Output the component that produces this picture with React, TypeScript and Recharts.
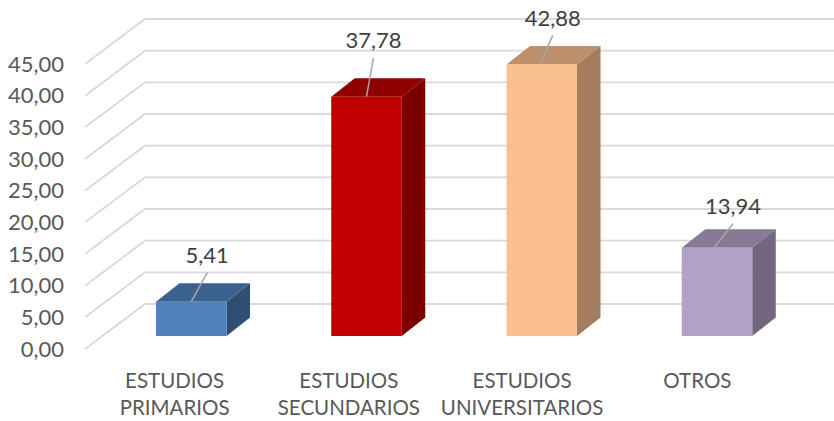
import React from "react";
import { BarChart, Bar, XAxis, YAxis, CartesianGrid, LabelList } from "recharts";

const categories = ["ESTUDIOS PRIMARIOS", "ESTUDIOS SECUNDARIOS", "ESTUDIOS UNIVERSITARIOS", "OTROS"];
const values = [5.41, 37.78, 42.88, 13.94];
const yTicks = [0, 5, 10, 15, 20, 25, 30, 35, 40, 45];

const frontColors = ["#4f81bd", "#c00000", "#fac090", "#b3a2c7"];
const topColors = ["#3b618e", "#900000", "#bc906c", "#867a95"];
const sideColors = ["#2f4e71", "#7a0000", "#a37d5e", "#72677f"];
const leaderStartDx = [0, 0, -2, -3];
const leaderDx = [16, 7, 11, 16];
const leaderDy = [-29, -39, -29, -24];
const xLabelDx = [-17, -18, -20, -20];

const data = categories.map((name, i) => ({ name, value: values[i] }));

const FONT = "Lato, sans-serif";
const DEPTH_X = 23.5;
const DEPTH_Y = 18.5;
const fmt = (v: number) => v.toFixed(2).replace(".", ",");

const Bar3D = (p: any) => {
  const { x, y, width, height, index } = p;
  const r = x + width;
  const b = y + height;
  return (
    <g>
      <path d={`M${x},${y} L${x + DEPTH_X},${y - DEPTH_Y} L${r + DEPTH_X},${y - DEPTH_Y} L${r},${y} Z`} fill={topColors[index]} />
      <path d={`M${r},${y} L${r + DEPTH_X},${y - DEPTH_Y} L${r + DEPTH_X},${b - DEPTH_Y} L${r},${b} Z`} fill={sideColors[index]} />
      <rect x={x} y={y} width={width} height={height} fill={frontColors[index]} />
    </g>
  );
};

const GridLine = (p: any) => {
  const y = p.y1;
  return <path key={p.key} d={`M85,${y + 13} L145,${y - 32} L834,${y - 32}`} fill="none" stroke="#d9d9d9" strokeWidth={1.8} />;
};

const YTick = (p: any) => (
  <text x={64} y={p.y + 15} textAnchor="end" dominantBaseline="middle" fontFamily={FONT} fontSize={22} fill="#595959">
    {fmt(p.payload.value)}
  </text>
);

const XTick = (p: any) => {
  const lines = String(p.payload.value).split(" ");
  return (
    <text textAnchor="middle" fontFamily={FONT} fontSize={20.5} fill="#595959">
      {lines.map((l, i) => (
        <tspan key={l} x={p.x + xLabelDx[p.index]} y={388 + i * 27}>{l}</tspan>
      ))}
    </text>
  );
};

const ValueLabel = (p: any) => {
  const { x, y, width, value, index } = p;
  const cx = x + width / 2;
  const ex = cx + leaderDx[index];
  const ey = y + leaderDy[index];
  return (
    <g>
      <line x1={cx + leaderStartDx[index]} y1={y} x2={ex} y2={ey} stroke="#a6a6a6" strokeWidth={1.5} />
      <text x={ex} y={ey - 15} textAnchor="middle" dominantBaseline="middle" fontFamily={FONT} fontSize={22} fill="#404040">
        {fmt(value)}
      </text>
    </g>
  );
};

export default function App() {
  return (
    <div style={{ position: "absolute", left: 0, top: 0, width: 834, height: 421, background: "#fff" }}>
      <BarChart width={834} height={421} data={data} margin={{ top: 51, right: 29, bottom: 0, left: 0 }} barSize={70.5}>
        <CartesianGrid vertical={false} horizontal={GridLine as any} />
        <XAxis dataKey="name" height={85} axisLine={false} tickLine={false} interval={0} tick={XTick as any} />
        <YAxis width={104} domain={[0, 45]} ticks={yTicks} axisLine={false} tickLine={false} tick={YTick as any} />
        <Bar dataKey="value" isAnimationActive={false} shape={Bar3D as any}>
          <LabelList dataKey="value" content={ValueLabel as any} />
        </Bar>
      </BarChart>
    </div>
  );
}
